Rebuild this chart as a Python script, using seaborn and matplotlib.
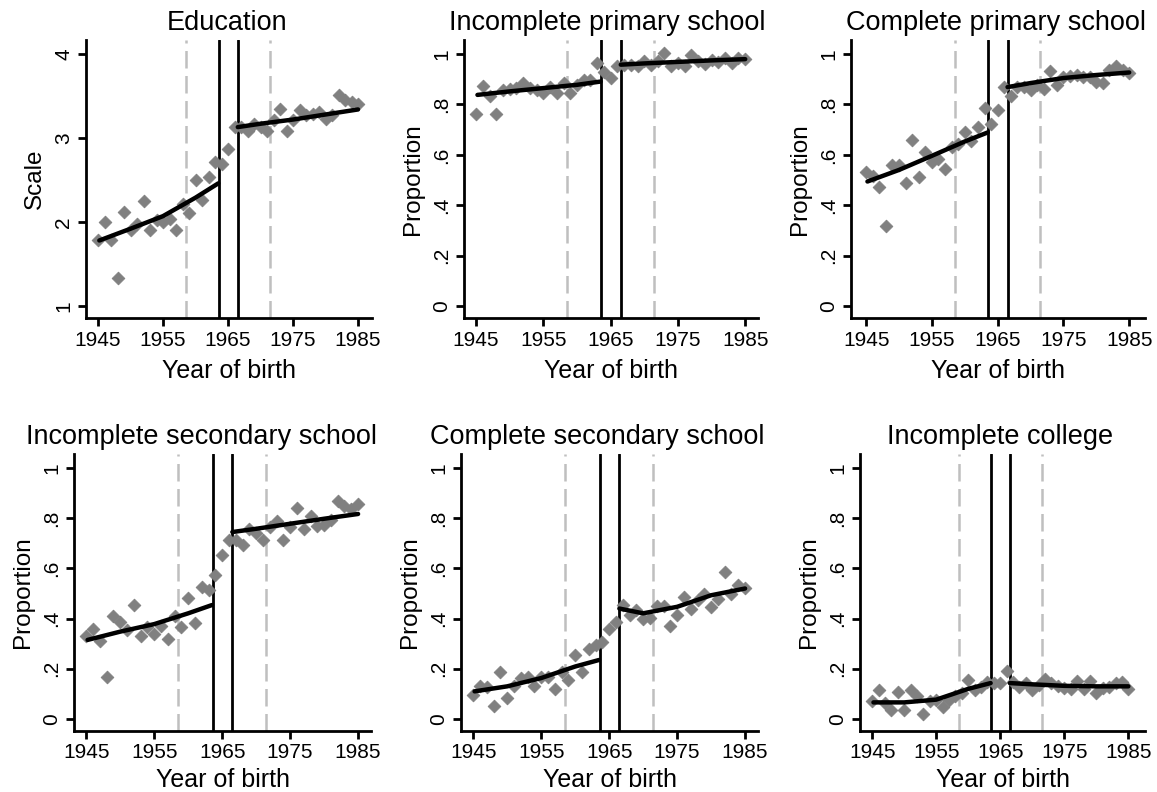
import numpy as np
import pandas as pd
import matplotlib
matplotlib.use("Agg")
import matplotlib.pyplot as plt
import seaborn as sns

# ---------------- data ----------------
years = list(range(1945, 1986))

education = [1.79, 2.00, 1.79, 1.33, 2.12, 1.91, 1.98, 2.25, 1.90, 2.02,
             2.00, 2.04, 1.91, 2.22, 2.11, 2.50, 2.26, 2.53, 2.72, 2.69,
             2.87, 3.13, 3.13, 3.08, 3.17, 3.13, 3.08, 3.21, 3.35, 3.08,
             3.22, 3.33, 3.27, 3.29, 3.31, 3.23, 3.27, 3.51, 3.45, 3.43, 3.40]

incomplete_primary = [0.762, 0.874, 0.832, 0.762, 0.856, 0.861, 0.865, 0.887, 0.865, 0.856,
                      0.845, 0.869, 0.845, 0.885, 0.845, 0.878, 0.898, 0.898, 0.964, 0.927,
                      0.905, 0.954, 0.958, 0.958, 0.951, 0.971, 0.958, 0.971, 1.004, 0.951,
                      0.964, 0.954, 0.997, 0.971, 0.962, 0.977, 0.967, 0.984, 0.964, 0.984, 0.980]

complete_primary = [0.530, 0.517, 0.472, 0.318, 0.560, 0.560, 0.490, 0.660, 0.511, 0.613,
                    0.570, 0.583, 0.543, 0.633, 0.644, 0.689, 0.653, 0.710, 0.785, 0.723,
                    0.779, 0.869, 0.834, 0.869, 0.869, 0.858, 0.878, 0.861, 0.931, 0.878,
                    0.911, 0.914, 0.918, 0.909, 0.911, 0.891, 0.885, 0.938, 0.951, 0.938, 0.925]

incomplete_secondary = [0.331, 0.357, 0.312, 0.169, 0.410, 0.388, 0.354, 0.454, 0.331, 0.365,
                        0.339, 0.370, 0.317, 0.410, 0.365, 0.484, 0.384, 0.524, 0.513, 0.573,
                        0.652, 0.712, 0.712, 0.692, 0.758, 0.741, 0.714, 0.765, 0.788, 0.714,
                        0.767, 0.841, 0.758, 0.807, 0.771, 0.775, 0.791, 0.870, 0.847, 0.837, 0.857]

complete_secondary = [0.097, 0.132, 0.126, 0.053, 0.189, 0.083, 0.130, 0.163, 0.169, 0.132,
                      0.169, 0.169, 0.119, 0.189, 0.156, 0.255, 0.189, 0.278, 0.295, 0.308,
                      0.357, 0.388, 0.454, 0.414, 0.434, 0.397, 0.401, 0.450, 0.450, 0.370,
                      0.414, 0.487, 0.437, 0.474, 0.500, 0.447, 0.480, 0.586, 0.497, 0.533, 0.520]

incomplete_college = [0.070, 0.114, 0.063, 0.037, 0.106, 0.034, 0.114, 0.093, 0.021, 0.070,
                      0.077, 0.048, 0.077, 0.090, 0.103, 0.156, 0.114, 0.126, 0.146, 0.143,
                      0.143, 0.193, 0.146, 0.126, 0.143, 0.114, 0.136, 0.161, 0.143, 0.130,
                      0.122, 0.119, 0.153, 0.119, 0.153, 0.103, 0.122, 0.126, 0.143, 0.146, 0.119]

# fitted lines (left of first cutoff / right of second cutoff)
fit_left_x = [1945.2, 1950, 1955, 1960, 1963.5]
fit_right_x = [1966.5, 1970, 1975, 1980, 1985]

fit_left = {
    "education": [1.78, 1.92, 2.07, 2.29, 2.46],
    "incomplete_primary": [0.838, 0.852, 0.865, 0.878, 0.891],
    "complete_primary": [0.494, 0.540, 0.596, 0.653, 0.689],
    "incomplete_secondary": [0.315, 0.348, 0.378, 0.421, 0.454],
    "complete_secondary": [0.110, 0.130, 0.163, 0.209, 0.235],
    "incomplete_college": [0.066, 0.066, 0.077, 0.120, 0.143],
}
fit_right = {
    "education": [3.13, 3.17, 3.22, 3.28, 3.34],
    "incomplete_primary": [0.958, 0.963, 0.969, 0.975, 0.980],
    "complete_primary": [0.869, 0.885, 0.905, 0.917, 0.927],
    "incomplete_secondary": [0.745, 0.758, 0.778, 0.798, 0.817],
    "complete_secondary": [0.440, 0.421, 0.447, 0.493, 0.520],
    "incomplete_college": [0.143, 0.138, 0.132, 0.130, 0.130],
}

titles = ["Education", "Incomplete primary school", "Complete primary school",
          "Incomplete secondary school", "Complete secondary school", "Incomplete college"]
keys = ["education", "incomplete_primary", "complete_primary",
        "incomplete_secondary", "complete_secondary", "incomplete_college"]
series = [education, incomplete_primary, complete_primary,
          incomplete_secondary, complete_secondary, incomplete_college]
ylabels = ["Scale", "Proportion", "Proportion", "Proportion", "Proportion", "Proportion"]

x_ticks = [1945, 1955, 1965, 1975, 1985]
x_ticklabels = ["1945", "1955", "1965", "1975", "1985"]
edu_ticks = [1, 2, 3, 4]
edu_ticklabels = ["1", "2", "3", "4"]
prop_ticks = [0, 0.2, 0.4, 0.6, 0.8, 1.0]
prop_ticklabels = ["0", ".2", ".4", ".6", ".8", "1"]

cutoffs_dashed = [1958.5, 1971.5]
cutoffs_solid = [1963.6, 1966.5]

# ---------------- style ----------------
sns.set_theme(style="ticks")
plt.rcParams["font.family"] = ["Liberation Sans", "DejaVu Sans"]

W, H = 1157, 792
fig = plt.figure(figsize=(W / 100, H / 100), dpi=100)

# axes boxes in pixels: (left, right, top, bottom), xlim, title x (axes fraction)
boxes = [
    (86, 372, 40, 318, (1943.15, 1987.15), 0.493),
    (464, 758, 40, 318, (1943.2, 1986.9), 0.486),
    (851, 1145, 40, 318, (1942.7, 1987.4), 0.493),
    (74, 371, 454, 731, (1943.2, 1986.9), 0.43),
    (461, 758, 454, 731, (1943.2, 1986.9), 0.46),
    (860, 1145, 454, 731, (1943.1, 1987.6), 0.491),
]

for i, (l, r, t, b, xl, tx) in enumerate(boxes):
    ax = fig.add_axes([l / W, 1 - b / H, (r - l) / W, (b - t) / H])
    df = pd.DataFrame({"year": years, "value": series[i]})
    sns.scatterplot(data=df, x="year", y="value", ax=ax, marker="D", s=42,
                    color="#808080", edgecolor="#808080", linewidth=0.6, zorder=3)
    k = keys[i]
    dl = pd.DataFrame({"year": fit_left_x, "fit": fit_left[k]})
    dr = pd.DataFrame({"year": fit_right_x, "fit": fit_right[k]})
    sns.lineplot(data=dl, x="year", y="fit", ax=ax, color="black", linewidth=3.2, zorder=4)
    sns.lineplot(data=dr, x="year", y="fit", ax=ax, color="black", linewidth=3.2, zorder=4)
    for c in cutoffs_dashed:
        ax.axvline(c, color="#bfbfbf", linewidth=1.8, dashes=(7, 3), zorder=2)
    for c in cutoffs_solid:
        ax.axvline(c, color="black", linewidth=2, zorder=2)

    ax.set_xlim(*xl)
    ax.set_xticks(x_ticks)
    ax.set_xticklabels(x_ticklabels)
    if i == 0:
        ax.set_ylim(0.857, 4.167)
        ax.set_yticks(edu_ticks)
        ax.set_yticklabels(edu_ticklabels, rotation=90, va="center")
    else:
        ax.set_ylim(-0.048, 1.056)
        ax.set_yticks(prop_ticks)
        ax.set_yticklabels(prop_ticklabels, rotation=90, va="center")

    for s in ["top", "right"]:
        ax.spines[s].set_visible(False)
    for s in ["left", "bottom"]:
        ax.spines[s].set_linewidth(2)
        ax.spines[s].set_color("black")
    ax.tick_params(axis="both", direction="out", length=6, width=2, color="black",
                   labelsize=15, pad=3, labelcolor="black")
    ax.set_xlabel("Year of birth", fontsize=18, labelpad=7 if i < 3 else 4, color="black")
    ax.set_ylabel(ylabels[i], fontsize=17.5, labelpad=6, color="black")
    ax.set_title(titles[i], fontsize=19.5, pad=7, color="black", x=tx)
    ax.grid(False)

fig.savefig("out.png", dpi=100)
